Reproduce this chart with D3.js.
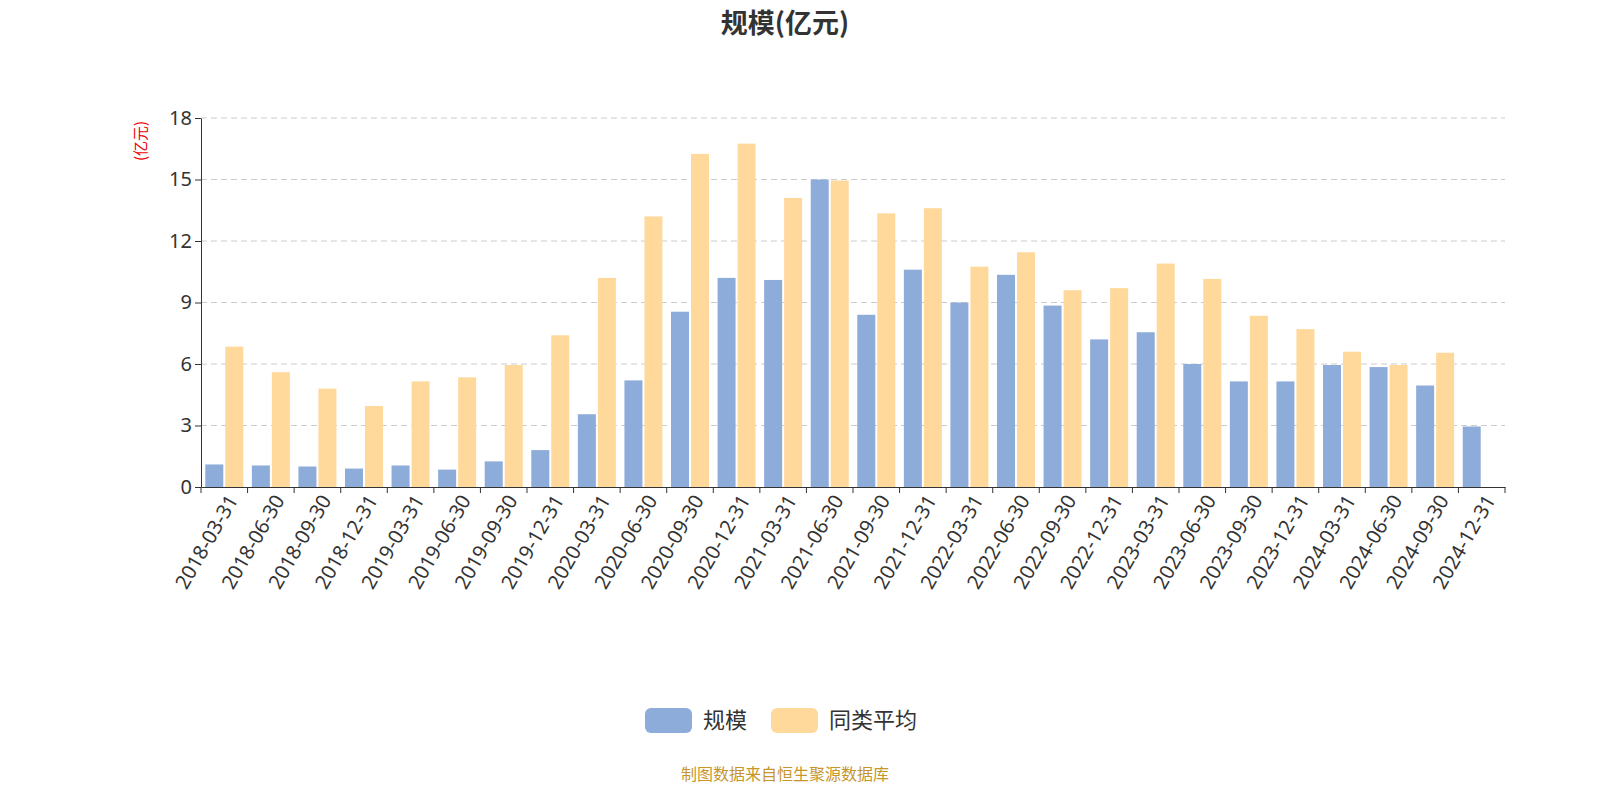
<!DOCTYPE html>
<html><head><meta charset="utf-8">
<script src="https://cdn.jsdelivr.net/npm/d3@7"></script>
<style>body{margin:0;background:#fff;font-family:"Noto Sans CJK SC","Noto Sans",sans-serif}</style>
</head><body><svg id="c" width="1600" height="800"></svg>
<script>
const categories=["2018-03-31","2018-06-30","2018-09-30","2018-12-31","2019-03-31","2019-06-30","2019-09-30","2019-12-31","2020-03-31","2020-06-30","2020-09-30","2020-12-31","2021-03-31","2021-06-30","2021-09-30","2021-12-31","2022-03-31","2022-06-30","2022-09-30","2022-12-31","2023-03-31","2023-06-30","2023-09-30","2023-12-31","2024-03-31","2024-06-30","2024-09-30","2024-12-31"];
const scaleValues=[1.1,1.05,1.0,0.9,1.05,0.85,1.25,1.8,3.55,5.2,8.55,10.2,10.1,15.0,8.4,10.6,9.0,10.35,8.85,7.2,7.55,6.0,5.15,5.15,5.95,5.85,4.95,2.95];
const avgValues=[6.85,5.6,4.8,3.95,5.15,5.35,5.95,7.4,10.2,13.2,16.25,16.75,14.1,14.95,13.35,13.6,10.75,11.45,9.6,9.7,10.9,10.15,8.35,7.7,6.6,5.95,6.55,null];
const yTicks=[0,3,6,9,12,15,18];
const seriesNames=["规模","同类平均"];
const colors=["#8eacd9","#ffd99b"];

const svg=d3.select("#c");
const L=201,R=1505,T=118,B=487;
const x=d3.scaleBand().domain(categories).range([L,R]);
const y=d3.scaleLinear().domain([0,18]).range([B,T]);
const bw=18;

svg.append("text").attr("x",785).attr("y",33).attr("text-anchor","middle").attr("font-size",27).attr("font-weight","bold").attr("fill","#333").text("规模(亿元)");

svg.append("g").selectAll("line").data(yTicks.slice(1)).join("line")
 .attr("x1",L).attr("x2",R).attr("y1",d=>y(d)).attr("y2",d=>y(d))
 .attr("stroke","#ccc").attr("stroke-dasharray","6,4");

const ya=svg.append("g").attr("transform",`translate(${L},0)`).call(d3.axisLeft(y).tickValues(yTicks).tickSize(6).tickSizeOuter(0));
ya.selectAll("text").attr("font-size",20).attr("fill","#333").attr("font-family","Noto Sans");
ya.selectAll("line,path").attr("stroke","#333");

svg.append("text").attr("transform","translate(146,141) rotate(-90)").attr("text-anchor","middle").attr("font-size",15).attr("fill","#e00").text("(亿元)");

svg.append("g").selectAll("rect").data(scaleValues).join("rect")
 .attr("x",(d,i)=>x(categories[i])+x.bandwidth()/2-bw-1).attr("width",bw)
 .attr("y",d=>y(d)).attr("height",d=>B-y(d)).attr("fill",colors[0]);
svg.append("g").selectAll("rect").data(avgValues.map((v,i)=>[v,i]).filter(d=>d[0]!=null)).join("rect")
 .attr("x",d=>x(categories[d[1]])+x.bandwidth()/2+1).attr("width",bw)
 .attr("y",d=>y(d[0])).attr("height",d=>B-y(d[0])).attr("fill",colors[1]);

const xa=svg.append("g").attr("transform",`translate(0,${B})`).call(d3.axisBottom(x).tickSize(6).tickSizeOuter(0));
xa.selectAll("line,path").attr("stroke","#333");
xa.selectAll(".tick line").attr("x1",-x.bandwidth()/2).attr("x2",-x.bandwidth()/2);
xa.append("line").attr("x1",R).attr("x2",R).attr("y1",0).attr("y2",6).attr("stroke","#333");
xa.selectAll("text").attr("font-size",20).attr("fill","#333").attr("font-family","Noto Sans")
 .attr("text-anchor","end").attr("dx","-4").attr("dy","10").attr("transform","rotate(-60)");

const lg=svg.append("g");
[[645,703],[771,829]].forEach((p,i)=>{
 lg.append("rect").attr("x",p[0]).attr("y",708).attr("width",47).attr("height",25).attr("rx",6).attr("fill",colors[i]);
 lg.append("text").attr("x",p[1]).attr("y",728).attr("font-size",22).attr("fill","#333").text(seriesNames[i]);
});
svg.append("text").attr("x",785).attr("y",780).attr("text-anchor","middle").attr("font-size",16).attr("fill","#c8952a").text("制图数据来自恒生聚源数据库");
</script></body></html>
